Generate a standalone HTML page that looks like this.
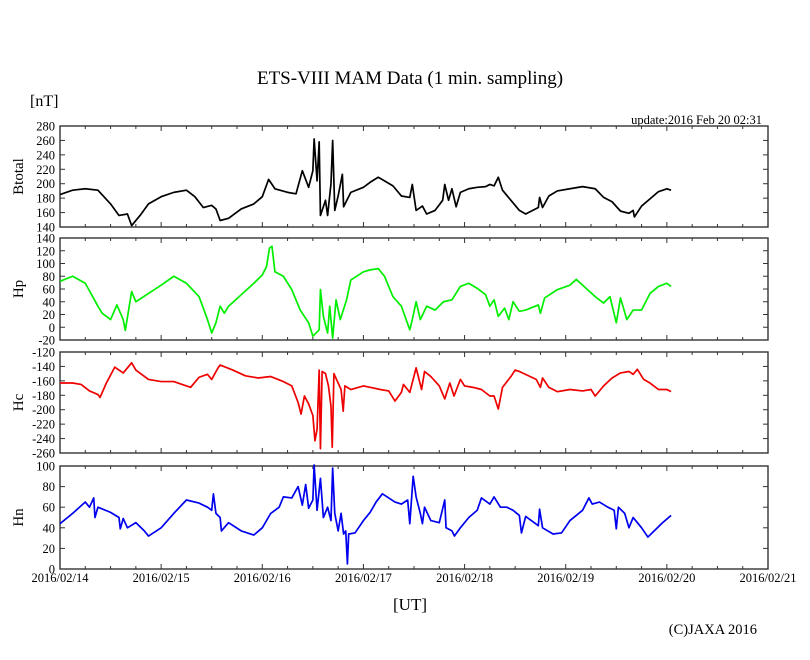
<!DOCTYPE html>
<html><head><meta charset="utf-8"><style>
html,body{margin:0;padding:0;background:#fff}
svg text{font-family:"Liberation Serif",serif;fill:#000}
</style></head><body>
<svg id="chart" width="810" height="655" viewBox="0 0 810 655" xmlns="http://www.w3.org/2000/svg">
<text x="410" y="84" font-size="19" text-anchor="middle">ETS-VIII MAM Data (1 min. sampling)</text>
<text x="30" y="106" font-size="16">[nT]</text>
<text x="762" y="124" font-size="12.5" text-anchor="end">update:2016 Feb 20 02:31</text>
<text x="410" y="610" font-size="17" text-anchor="middle">[UT]</text>
<text x="757" y="634" font-size="14.5" text-anchor="end">(C)JAXA 2016</text>
<g id="panels"></g>
</svg>
<script>
const dayLabels = ["2016/02/14","2016/02/15","2016/02/16","2016/02/17","2016/02/18","2016/02/19","2016/02/20","2016/02/21"];

const btTimes = [0,3,6,9,12,14,16,17,19,21,24,27,30,32,34,36,37,38,40,43,46,48,49.5,51,54,56,57.5,59,60,60.3,61,61.5,61.8,63,63.5,64.3,64.7,65.2,66,67,67.3,69,72,73.6,75.5,77,79,81,83,83.6,84.5,86,87,89,90.8,91.3,92.2,93,94,95,97,99,101,102,103,104,105,107,109,110.5,113.5,113.8,114.5,116,118,121,124,127,129,131,133,135,136,136.3,138,140,142,144,145];
const btValues = [185,191,193,191,172,156,158,142,156,172,182,188,191,182,167,170,165,149,152,165,172,182,206,193,188,186,218,195,218,262,204,258,156,177,156,200,260,163,183,213,168,188,195,202,209,204,197,183,181,199,163,169,158,163,177,199,177,193,168,188,193,195,196,199,197,209,191,177,163,158,167,181,167,183,190,193,196,193,181,175,162,159,163,154,169,179,189,193,191];

const hpTimes = [0,3,6,9,10,12,13.5,15,15.5,17,18,21,24,27,30,33,35,36,37,38,39,40,43,46,48,49,49.7,50.3,51,53,55,57,59,60,61.5,61.8,62.5,63.5,64,64.7,65.5,66.5,68,69,72,73.6,75.5,77,79,81,83,83.6,84.5,85.5,87,89,91,93,95,97,99,101,102,103,104,105.5,106.5,107.5,109,110.5,113.5,114,115,118,121,122.5,124,127,129,130.5,132,133,134.5,136,138,140,142,144,145];
const hpValues = [72,80,69,33,22,12,35,12,-5,56,40,53,66,80,69,48,12,-9,7,33,22,33,51,69,82,95,124,127,87,80,59,27,7,-14,-4,59,17,-9,33,-17,43,12,43,74,87,90,92,80,48,33,-4,12,40,12,33,27,40,43,64,69,61,51,33,43,17,30,12,40,25,27,35,22,46,59,66,75,66,48,38,48,7,46,12,27,27,53,64,69,64];

const hcTimes = [0,3,5,7,9,9.5,11,13,15,17,18,21,24,27,30,31,33,35,36,37.5,38,41,44,47,50,53,55,56.5,57.2,58,59,60,60.5,61,61.5,61.8,62.2,63,63.7,64.3,64.6,65,66,66.7,67.2,67.6,69,72,73.6,76,78,79.5,81,81.5,83,84.5,85.8,86.5,88,90,91.3,92.5,93.5,95,96,98,100,102,103,104,105,107,108,109,113,114,114.5,116,118,121,124,126,127,129,131,133,135,136,137,138.5,140,142,144,145];
const hcValues = [-163,-163,-165,-174,-179,-183,-163,-141,-149,-135,-145,-158,-161,-161,-167,-169,-155,-151,-158,-142,-138,-145,-153,-156,-154,-161,-167,-190,-206,-181,-192,-208,-243,-227,-145,-254,-147,-150,-167,-195,-252,-150,-163,-172,-202,-167,-172,-167,-169,-172,-174,-188,-176,-165,-176,-142,-172,-147,-154,-167,-185,-163,-181,-158,-167,-169,-172,-181,-181,-199,-169,-154,-145,-147,-158,-169,-156,-169,-175,-172,-174,-172,-181,-167,-156,-149,-147,-151,-144,-158,-163,-172,-172,-175];

const hnTimes = [0,3,6,7,8,8.3,9,12,14,14.3,15,16,18,20,21,24,27,30,33,35,36,36.4,37,38,38.3,40,43,46,48,50,52,53,55,56.5,57.5,58.3,59,60,60.3,61,61.8,62.5,63.5,64.3,64.7,65.2,66,66.7,67.3,67.8,68.2,68.5,70,72,73.6,75,76.5,78,79.5,81,82.5,83,83.8,84.5,85.5,86,86.5,88,90,91.3,91.6,93,93.6,95,97,99,100,102,103,104.5,106,107.5,109,109.5,110.5,113.5,113.8,114.5,117,119,121,124,125.5,126.3,128,130,131.5,132,132.5,134,135,136,138,139.5,141,143,145];
const hnValues = [44,54,65,60,69,50,60,55,50,39,49,40,45,37,32,40,54,67,64,60,57,73,54,50,37,45,37,33,40,54,60,70,69,80,62,82,59,67,101,57,88,50,60,47,98,54,37,54,34,37,5,34,35,47,55,65,73,69,65,63,67,44,90,70,54,44,60,47,45,67,40,37,32,40,50,57,69,63,70,60,60,57,52,35,51,42,58,40,34,35,47,57,69,63,65,60,57,39,60,54,40,50,40,31,37,45,52];

const yLabelsBt = [280,260,240,220,200,180,160,140];
const yLabelsHp = [140,120,100,80,60,40,20,0,-20];
const yLabelsHc = [-120,-140,-160,-180,-200,-220,-240,-260];
const yLabelsHn = [100,80,60,40,20,0];

const NS = "http://www.w3.org/2000/svg";
const X0 = 60, X1 = 768, DAYS = 7;
function xOf(h){ return X0 + h/(24*DAYS)*(X1-X0); }
function mk(tag, attrs, parent){ const e=document.createElementNS(NS,tag); for(const k in attrs) e.setAttribute(k,attrs[k]); parent.appendChild(e); return e; }

const panelsG = document.getElementById('panels');
const panels = [
 {name:'btotal', label:'Btotal', top:126, bot:227, min:140, max:280, ticks:yLabelsBt, t:btTimes, v:btValues, color:'#000000'},
 {name:'hp', label:'Hp', top:238, bot:340, min:-20, max:140, ticks:yLabelsHp, t:hpTimes, v:hpValues, color:'#00ee00'},
 {name:'hc', label:'Hc', top:352, bot:453, min:-260, max:-120, ticks:yLabelsHc, t:hcTimes, v:hcValues, color:'#ee0000'},
 {name:'hn', label:'Hn', top:466, bot:569, min:0, max:100, ticks:yLabelsHn, t:hnTimes, v:hnValues, color:'#0000ee'}
];

panels.forEach((p, idx) => {
  const g = mk('g', {}, panelsG);
  
  
  const yOf = val => p.bot - (val - p.min)/(p.max - p.min)*(p.bot - p.top);
  const fr = mk('rect', {x:X0, y:p.top, width:X1-X0, height:p.bot-p.top, fill:'none', stroke:'#333', 'stroke-width':1.4}, g);
  
  
  for (let h = 0; h <= 24*DAYS; h += 6) {
    const x = xOf(h), len = (h % 24 === 0) ? 5 : 3;
    mk('line', {x1:x, x2:x, y1:p.bot, y2:p.bot-len, stroke:'#333', 'stroke-width':1}, g);
    mk('line', {x1:x, x2:x, y1:p.top, y2:p.top+len, stroke:'#333', 'stroke-width':1}, g);
  }
  p.ticks.forEach(tv => {
    const y = yOf(tv);
    mk('line', {x1:X0, x2:X0+5, y1:y, y2:y, stroke:'#333', 'stroke-width':1}, g);
    mk('line', {x1:X1, x2:X1-5, y1:y, y2:y, stroke:'#333', 'stroke-width':1}, g);
    const t = mk('text', {x:55, y:y+4.5, 'font-size':12.5, 'text-anchor':'end'}, g);
    t.textContent = String(tv);
    
    
  });
  const cy = (p.top + p.bot)/2;
  const at = mk('text', {x:0, y:0, 'font-size':15, 'text-anchor':'middle', transform:'translate(23,'+cy+') rotate(-90)'}, g);
  at.textContent = p.label;
  
  
  let d = '';
  p.t.forEach((h, i) => { d += (i ? 'L' : 'M') + xOf(h).toFixed(2) + ' ' + yOf(p.v[i]).toFixed(2); });
  const line = mk('path', {d:d, fill:'none', stroke:p.color, 'stroke-width':1.7, 'stroke-linejoin':'round'}, g);
  
  
});

dayLabels.forEach((lab, i) => {
  const t = mk('text', {x:xOf(i*24), y:582, 'font-size':12.5, 'text-anchor':'middle'}, panelsG);
  t.textContent = lab;
  
  
});
</script>
</body></html>
